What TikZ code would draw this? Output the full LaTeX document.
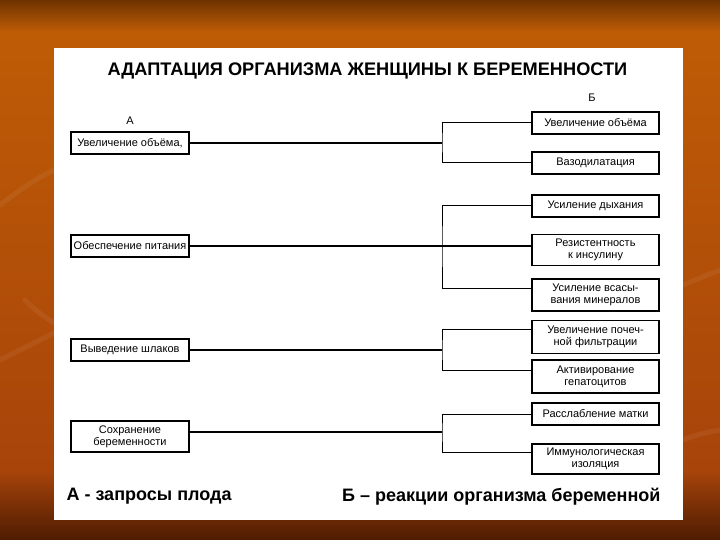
\documentclass[tikz,border=0pt]{standalone}
\usepackage{fontspec}
\setmainfont{Liberation Sans}
\usetikzlibrary{calc}

\definecolor{bgdark}{HTML}{6E3300}
\definecolor{bgorange}{HTML}{BE5C06}
\definecolor{bgmid}{HTML}{A8440A}
\definecolor{bgbottom}{HTML}{4E1C02}

\tikzset{
	box/.style={draw, line width=1.2pt, fill=white, minimum height=22pt, inner sep=1pt, align=center, font=\fontsize{11}{12}\selectfont},
	leftbox/.style={box, minimum width=118pt},
	rightbox/.style={box, minimum width=127pt},
	tall/.style={minimum height=31pt},
	link/.style={line width=1pt},
	mainlink/.style={line width=2pt},
	swoosh/.style={line width=5pt, line cap=round, draw=white, opacity=.06},
}

\begin{document}
\begin{tikzpicture}[x=1pt,y=-1pt]
	
	% Background of the slide
	\useasboundingbox (0,0) rectangle (720,540);
	\shade[top color=bgdark, bottom color=bgorange] (0,0) rectangle (720,32);
	\shade[top color=bgorange, bottom color=bgmid] (0,32) rectangle (720,470);
	\shade[top color=bgmid, bottom color=bgbottom] (0,470) rectangle (720,540);
	
	% faint swooshes
	\draw[swoosh] (0,205) .. controls (20,190) and (40,175) .. (60,168);
	\draw[swoosh] (0,360) .. controls (20,350) and (40,340) .. (60,330);
	\draw[swoosh] (25,300) .. controls (35,310) and (45,318) .. (58,325);
	\draw[swoosh] (683,285) .. controls (695,280) and (708,275) .. (720,270);
	\draw[swoosh] (683,440) .. controls (695,435) and (708,432) .. (720,430);
	
	% White sheet
	\fill[white] (54,48) rectangle (683,520);
	
	% Title
	\node (title) at (367.5,70.5) {\fontsize{18.2}{22}\selectfont\bfseries АДАПТАЦИЯ ОРГАНИЗМА ЖЕНЩИНЫ К БЕРЕМЕННОСТИ};
	
	% Column of the junctions
	\coordinate (bx) at (442,0);   % vertical bracket lines
	
	% Column A
	\node[font=\fontsize{11}{12}\selectfont] (labA) at (130,121) {А};
	\node[leftbox] (A1) at (130,143) {Увеличение объёма,};
	\node[leftbox] (A2) at (130,246) {Обеспечение питания};
	\node[leftbox] (A3) at (130,350) {Выведение шлаков};
	\node[leftbox, tall] (A4) at (130,436.5) {Сохранение\\беременности};
	
	% Column B
	\node[font=\fontsize{11}{12}\selectfont] (labB) at (592,97.5) {Б};
	\node[rightbox] (B1) at (595.5,123) {Увеличение объёма};
	\node[rightbox] (B2) at (595.5,163) {Вазодилатация};
	\node[rightbox] (B3) at (595.5,206) {Усиление дыхания};
	\node[rightbox, tall] (B4) at (595.5,250) {Резистентность\\к инсулину};
	\node[rightbox, minimum height=32pt] (B5) at (595.5,295) {Усиление всасы-\\вания минералов};
	\node[rightbox, minimum height=33pt] (B6) at (595.5,337) {Увеличение почеч-\\ной фильтрации};
	\node[rightbox, minimum height=33pt] (B7) at (595.5,376.5) {Активирование\\гепатоцитов};
	\node[rightbox] (B8) at (595.5,414) {Расслабление матки};
	\node[rightbox, minimum height=30pt] (B9) at (595.5,459) {Иммунологическая\\изоляция};
	
	% Connectors
	% first bracket
	\draw[mainlink] (A1.east) -- (A1.east -| bx);
	\draw[link] (B1.west) -| (A1.east -| bx) |- (B2.west);
	
	% second bracket
	\draw[mainlink] (A2.east) -- (A2.east -| B4.west);
	\draw[link] (B3.west) -| (A2.east -| bx) |- ($(B5.north west)!.3!(B5.south west)$);
	
	% third bracket
	\draw[mainlink] (A3.east) -- (A3.east -| bx);
	\draw[link] ($(B6.north west)!.27!(B6.south west)$) -| (A3.east -| bx) |- ($(B7.north west)!.33!(B7.south west)$);
	
	% fourth bracket
	\coordinate (A4e) at ($(A4.north east)!.35!(A4.south east)$);
	\draw[mainlink] (A4e) -- (A4e -| bx);
	\draw[link] (B8.west) -| (A4e -| bx) |- ($(B9.north west)!.3!(B9.south west)$);
	
	% Legend
	\node[anchor=west, font=\fontsize{18}{21}\selectfont\bfseries] (legA) at (63,496.5) {А - запросы плода};
	\node[anchor=east, font=\fontsize{18}{21}\selectfont\bfseries] (legB) at (664,496.5) {Б -- реакции организма беременной};
	
\end{tikzpicture}
\end{document}
